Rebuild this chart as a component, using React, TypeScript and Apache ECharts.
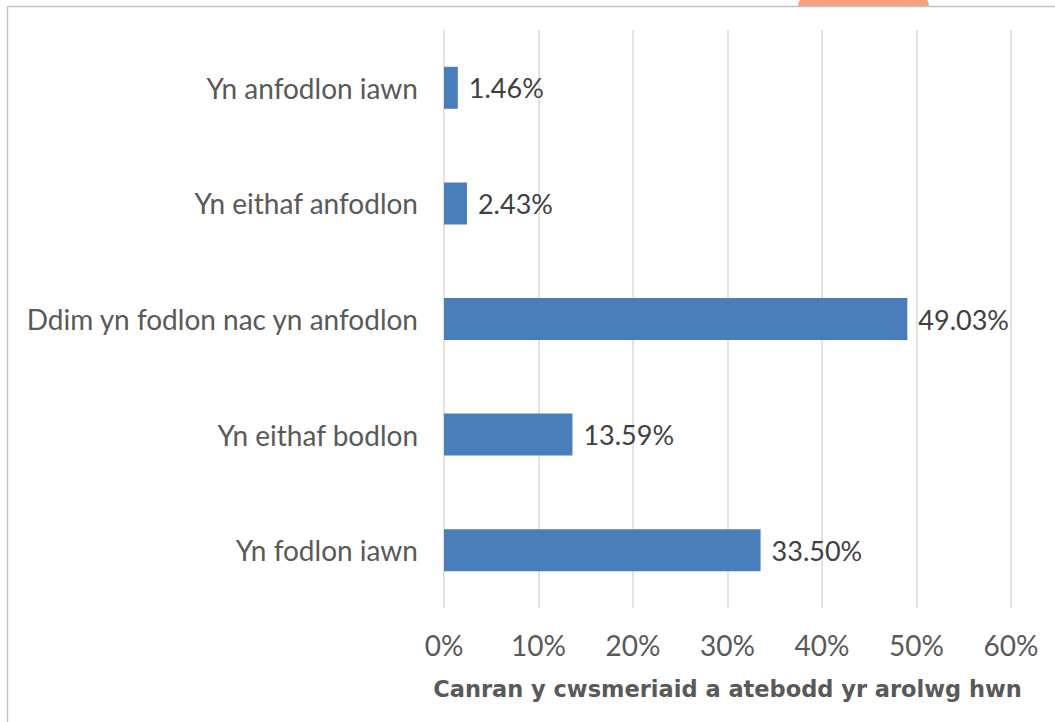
import React, { useEffect, useRef } from "react";
import * as echarts from "echarts";

const categories = [
  "Yn anfodlon iawn",
  "Yn eithaf anfodlon",
  "Ddim yn fodlon nac yn anfodlon",
  "Yn eithaf bodlon",
  "Yn fodlon iawn",
];
const values = [1.46, 2.43, 49.03, 13.59, 33.5];
const axisTitle = "Canran y cwsmeriaid a atebodd yr arolwg hwn";

const FONT = "Lato";

export default function App() {
  const ref = useRef<HTMLDivElement>(null);
  useEffect(() => {
    document.body.style.margin = "0";
    const chart = echarts.init(ref.current!, undefined, { renderer: "svg" });
    chart.setOption({
      animation: false,
      backgroundColor: "#ffffff",
      textStyle: { fontFamily: FONT },
      grid: { left: 444, right: 44, top: 30, bottom: 114, containLabel: false },
      xAxis: {
        type: "value",
        min: 0,
        max: 60,
        interval: 10,
        axisLine: { show: false },
        axisTick: { show: false },
        splitLine: { show: true, lineStyle: { color: "#D9D9D9", width: 1.5 } },
        axisLabel: {
          formatter: "{value}%",
          color: "#595959",
          fontSize: 28,
          fontFamily: FONT,
          margin: 23,
        },
        name: axisTitle,
        nameLocation: "middle",
        nameGap: 69,
        nameTextStyle: {
          color: "#595959",
          fontSize: 22.5,
          fontWeight: "bold",
          fontFamily: "DejaVu Sans",
        },
      },
      yAxis: {
        type: "category",
        data: categories,
        inverse: true,
        axisLine: { show: false },
        axisTick: { show: false },
        axisLabel: {
          color: "#595959",
          fontSize: 28,
          fontFamily: FONT,
          margin: 26,
        },
      },
      series: [
        {
          type: "bar",
          data: values,
          barWidth: 42,
          itemStyle: { color: "#4A7EBB" },
          label: {
            show: true,
            position: "right",
            distance: 11,
            color: "#404040",
            fontSize: 27,
            fontFamily: FONT,
            formatter: (p: any) => p.value.toFixed(2) + "%",
          },
        },
      ],
      graphic: [
        {
          type: "rect",
          shape: { x: 798, y: -4, width: 131, height: 11, r: [10, 10, 0, 0] },
          style: { fill: "#F4A080" },
          z: 10,
        },
        {
          type: "line",
          shape: { x1: 7.5, y1: 6.5, x2: 1055, y2: 6.5 },
          style: { stroke: "#C4C4C4", lineWidth: 1.5 },
          z: 11,
        },
        {
          type: "line",
          shape: { x1: 7.5, y1: 6.5, x2: 7.5, y2: 722 },
          style: { stroke: "#C4C4C4", lineWidth: 1.5 },
          z: 11,
        },
      ],
    });
    return () => chart.dispose();
  }, []);
  return <div ref={ref} style={{ width: 1055, height: 722 }} />;
}
